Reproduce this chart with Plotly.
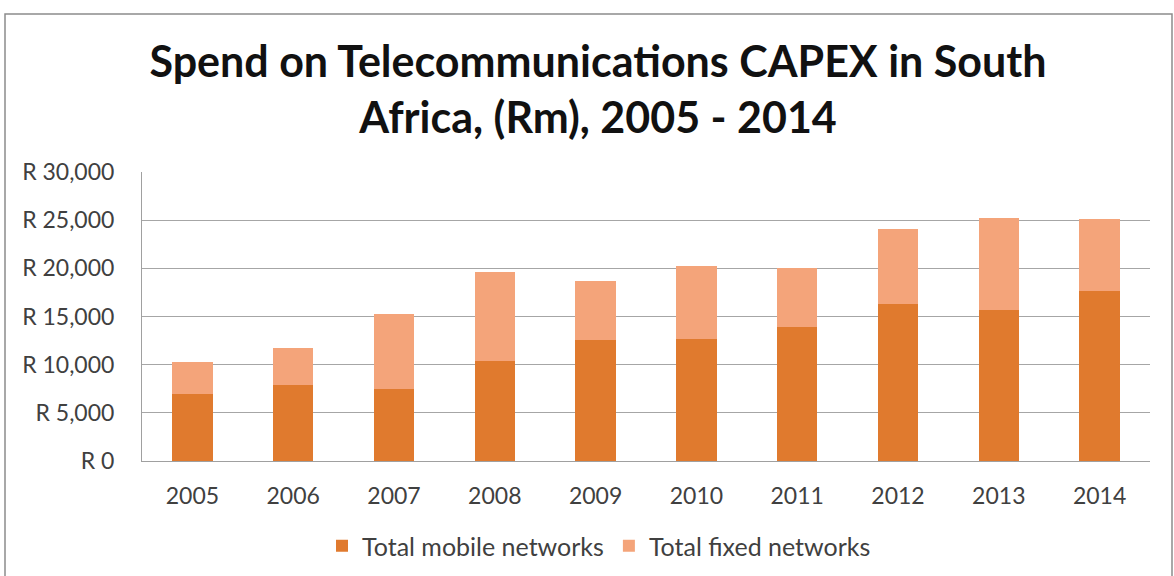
import plotly.graph_objects as go

# CAPEX spend in South Africa (R million)
years = ["2005", "2006", "2007", "2008", "2009", "2010", "2011", "2012", "2013", "2014"]
mobile = [7000, 7900, 7500, 10400, 12600, 12700, 13900, 16300, 15700, 17600]
fixed = [3300, 3800, 7800, 9200, 6100, 7500, 6100, 7800, 9500, 7500]

series_names = ["Total mobile networks", "Total fixed networks"]
title_text = "Spend on Telecommunications CAPEX in South<br>Africa, (Rm), 2005 - 2014"

MOBILE_COLOR = "#E07A2E"
FIXED_COLOR = "#F4A47A"
FONT = "Lato"
TEXT_COLOR = "#404040"

# plot-area geometry in pixels
W, H = 1174, 576
L, R, T, B = 142, 24, 172, 115
pw, ph = W - L - R, H - T - B


def px_x(x):
    return (x - L) / pw


def px_y(y):
    return (H - B - y) / ph


fig = go.Figure()
fig.add_trace(go.Bar(x=years, y=mobile, name=series_names[0],
                     marker=dict(color=MOBILE_COLOR, line=dict(width=0))))
fig.add_trace(go.Bar(x=years, y=fixed, name=series_names[1],
                     marker=dict(color=FIXED_COLOR, line=dict(width=0))))

fig.update_layout(
    width=W, height=H,
    barmode="stack",
    bargap=0.6,
    margin=dict(l=L, r=R, t=T, b=B, autoexpand=False),
    paper_bgcolor="white",
    plot_bgcolor="white",
    font=dict(family=FONT, color=TEXT_COLOR, size=22),
    title=dict(
        text=title_text,
        x=px_x(598), xref="paper", xanchor="center",
        y=1 - 77 / H, yref="container", yanchor="middle",
        font=dict(family=FONT, size=43, color="#111111", weight="bold"),
    ),
    showlegend=True,
    legend=dict(
        orientation="h",
        x=px_x(599), xanchor="center",
        y=1 - 546 / H, yref="container", yanchor="middle",
        font=dict(size=25, color=TEXT_COLOR),
        itemwidth=30,
        traceorder="normal",
    ),
    shapes=[
        dict(type="rect", xref="paper", yref="paper",
             x0=px_x(5), x1=px_x(1172), y0=px_y(590), y1=px_y(14),
             line=dict(color="#8c8c8c", width=1.5), fillcolor="rgba(0,0,0,0)",
             layer="below"),
    ],
)

fig.update_xaxes(
    showgrid=False,
    showline=True, linecolor="#a0a0a0", linewidth=1,
    ticks="", ticklabelstandoff=14,
    tickfont=dict(size=23, color=TEXT_COLOR),
)
fig.update_yaxes(
    range=[0, 30000],
    dtick=5000,
    tickprefix="R ",
    tickformat=",d",
    showgrid=True, gridcolor="#a6a6a6", gridwidth=1,
    showline=True, linecolor="#a0a0a0", linewidth=1,
    zeroline=False,
    ticks="", ticklabelstandoff=22,
    tickfont=dict(size=23, color=TEXT_COLOR),
)

fig.write_html("out.html")
